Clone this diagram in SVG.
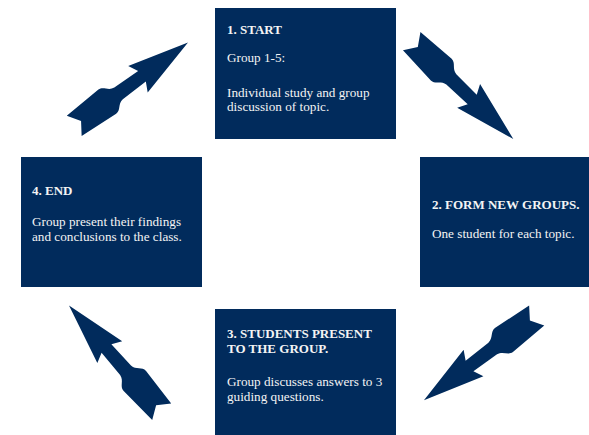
<svg xmlns="http://www.w3.org/2000/svg" width="589" height="435" viewBox="0 0 589 435">
<style>
.box{fill:#012b5c}
.h{font-family:"Liberation Serif","Times New Roman",serif;font-weight:bold;font-size:13px;fill:#f4f4f4}
.t{font-family:"Liberation Serif","Times New Roman",serif;font-size:13.2px;fill:#f4f4f4}
.arr{fill:#012b5c}
</style>
<defs>
<path id="arrow" d="M0,-12.6 L41,-15 C47,-15 48,-8 55,-7.2 L84,-6.5 L79,-16.5 L141,0 L79,16.5 L84,6.5 L55,7.2 C48,8 47,15 41,15 L0,12.6 L8.5,0 Z"/>
</defs>
<rect width="589" height="435" fill="#ffffff"/>
<g id="connectors">
<use href="#arrow" class="arr" transform="translate(411.7,41.2) rotate(43.9)"/>
<use href="#arrow" class="arr" transform="translate(536.7,315.5) rotate(143.1)"/>
<use href="#arrow" class="arr" transform="translate(161.7,411.7) rotate(-131.1)"/>
<use href="#arrow" class="arr" transform="translate(74.2,125.9) rotate(-36.2)"/>
</g>
<g id="node1">
<rect class="box" x="215" y="8" width="181" height="131"/>
<text class="h" x="227" y="34">1. START</text>
<text class="t" x="227" y="62">Group 1-5:</text>
<text class="t" x="227" y="97">Individual study and group</text>
<text class="t" x="227" y="111">discussion of topic.</text>
</g>
<g id="node2">
<rect class="box" x="420" y="157" width="169" height="130"/>
<text class="h" x="432" y="209">2. FORM NEW GROUPS.</text>
<text class="t" x="432" y="238">One student for each topic.</text>
</g>
<g id="node3">
<rect class="box" x="215" y="309" width="181" height="126"/>
<text class="h" x="227" y="338">3. STUDENTS PRESENT</text>
<text class="h" x="227" y="353">TO THE GROUP.</text>
<text class="t" x="227" y="386">Group discusses answers to 3</text>
<text class="t" x="227" y="400.5">guiding questions.</text>
</g>
<g id="node4">
<rect class="box" x="21" y="157" width="181" height="130"/>
<text class="h" x="32" y="195">4. END</text>
<text class="t" x="32" y="226">Group present their findings</text>
<text class="t" x="32" y="241">and conclusions to the class.</text>
</g>
</svg>
